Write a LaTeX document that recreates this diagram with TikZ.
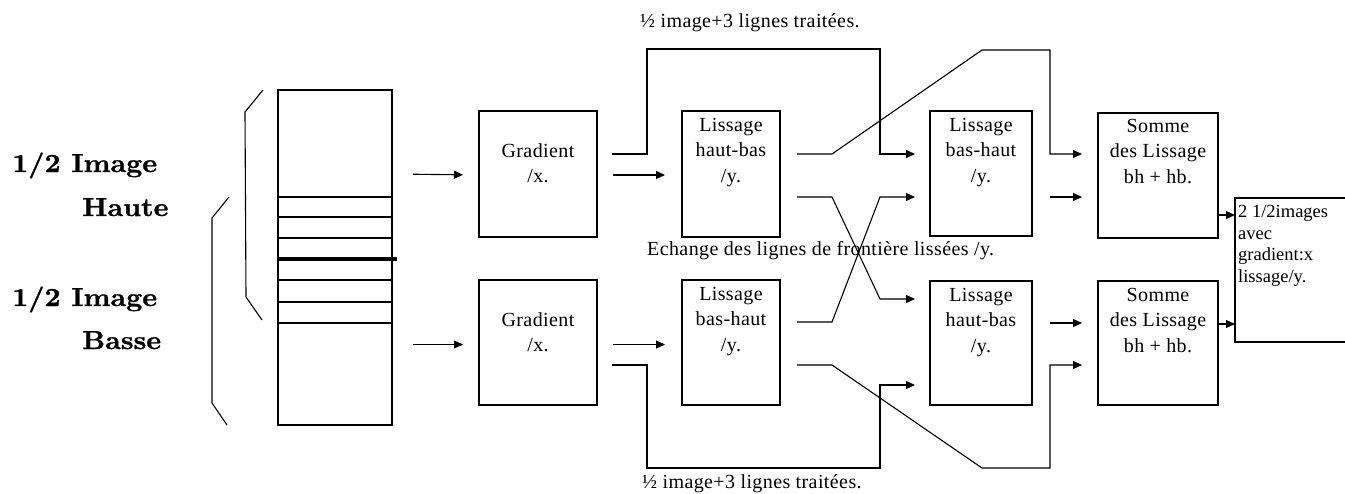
\documentclass[tikz,border=0pt]{standalone}
\usepackage{fontspec}
\newfontfamily\tnr{Liberation Serif}[LetterSpace=2]
\newfontfamily\tnrplain{Liberation Serif}
\newfontfamily\lmb{lmroman10-bold.otf}[FakeStretch=1.08,FakeBold=1]
\usetikzlibrary{arrows.meta,calc}
\tikzset{
  box/.style={draw,line width=1.2pt,inner sep=0pt,outer sep=0pt,anchor=north west},
  arr/.style={line width=1.1pt,-{Triangle[length=9pt,width=8pt]}},
  ln/.style={line width=1.1pt},
  btxt/.style={font=\tnr\fontsize{20}{25.5}\selectfont,align=center,anchor=north,inner sep=0pt},
  lbl/.style={font=\tnr\fontsize{20}{24}\selectfont,anchor=base west,inner sep=0pt},
  big/.style={font=\lmb\fontsize{26}{32}\selectfont,anchor=base west,inner sep=0pt},
}
\begin{document}
\begin{tikzpicture}[x=1pt,y=-1pt]
\clip (0,0) rectangle (1345,493);
\fill[white] (0,0) rectangle (1345,493);

% left labels
\node[big] (t1) at (12,172) {1/2 Image};
\node[big] (t2) at (82,216) {Haute};
\node[big] (t3) at (12,306) {1/2 Image};
\node[big] (t4) at (82,349) {Basse};

% braces
\draw[ln] (263,90) -- (245,112) -- (246,297) -- (262,320);
\draw[ln] (229,197) -- (212,218) -- (212,403) -- (227,425);

% image strip
\node[box,minimum width=114pt,minimum height=335pt] (img) at (278,90) {};
\foreach \yy in {197,217,238,280,302,323}{
  \draw[line width=1.1pt] (img.west |- 0,\yy) -- (img.east |- 0,\yy);
}
\draw[line width=3.5pt] ($(img.west |- 0,259)+(-1,0)$) -- ($(img.east |- 0,259)+(5,0)$);

% boxes
\node[box,minimum width=118pt,minimum height=126pt] (g1) at (479,111) {};
\node[box,minimum width=118pt,minimum height=125pt] (g2) at (479,280) {};
\node[box,minimum width=98pt,minimum height=126pt] (l1) at (682,111) {};
\node[box,minimum width=98pt,minimum height=125pt] (l2) at (682,280) {};
\node[box,minimum width=102pt,minimum height=125pt] (l3) at (930,111) {};
\node[box,minimum width=102pt,minimum height=124pt] (l4) at (930,281) {};
\node[box,minimum width=120pt,minimum height=125pt] (s1) at (1098,113) {};
\node[box,minimum width=120pt,minimum height=124pt] (s2) at (1098,281) {};
\node[box,minimum width=140pt,minimum height=144pt] (out) at (1235,198) {};

% box texts
\node[btxt] (g1t) at ($(g1.north)+(0,32)$) {Gradient\\/x.};
\node[btxt] (g2t) at ($(g2.north)+(0,32)$) {Gradient\\/x.};
\node[btxt] (l1t) at ($(l1.north)+(0,7)$) {Lissage\\haut-bas\\/y.};
\node[btxt] (l2t) at ($(l2.north)+(0,7)$) {Lissage\\bas-haut\\/y.};
\node[btxt] (l3t) at ($(l3.north)+(0,7)$) {Lissage\\bas-haut\\/y.};
\node[btxt] (l4t) at ($(l4.north)+(0,7)$) {Lissage\\haut-bas\\/y.};
\node[btxt] (s1t) at ($(s1.north)+(0,6)$) {Somme\\des Lissage\\bh + hb.};
\node[btxt] (s2t) at ($(s2.north)+(0,7)$) {Somme\\des Lissage\\bh + hb.};
\node[font=\tnrplain\fontsize{18.5}{21.7}\selectfont,align=left,anchor=north west,inner sep=0pt] (outt) at ($(out.north west)+(3,7)$) {2 1/2images\\avec\\gradient:x\\lissage/y.};

% labels
\node[lbl] (top) at (640,27) {½ image+3 lignes traitées.};
\node[lbl] (bot) at (642,488) {½ image+3 lignes traitées.};
\node[lbl] (ech) at (647,255) {Echange des lignes de frontière lissées /y.};

% routing points
\coordinate (p1) at (647,49);
\coordinate (p2) at (880,49);
\coordinate (p3) at (982,50);
\coordinate (p4) at (1050,50);
\coordinate (p5) at (880,299);
\coordinate (p6) at (880,197);
\coordinate (p7) at (647,468);
\coordinate (p8) at (880,468);
\coordinate (p9) at (982,468);
\coordinate (p10) at (1050,468);

% connectors
\draw[arr,shorten <=21pt,shorten >=16pt] (g1.west -| img.east) -- ($(g1.west)+(0,1)$);
\draw[arr,shorten <=21pt,shorten >=16pt] ($(g2.west -| img.east)+(0,2)$) -- ($(g2.west)+(0,2)$);
\draw[arr,shorten <=16pt,shorten >=17pt] ($(g1.east)+(0,1)$) -- ($(l1.west)+(0,1)$);
\draw[arr,shorten <=16pt,shorten >=17pt] ($(g2.east)+(0,2)$) -- ($(l2.west)+(0,2)$);

\draw[arr] ($(g1.north east)+(15,43)$) -- ($(g1.north east)+(50,43)$) -- (p1) -- (p2) -- ($(l3.north west)+(-50,43)$) -- ($(l3.north west)+(-15,43)$);
\draw[arr] ($(l1.north east)+(17,43)$) -- ($(l1.north east)+(52,43)$) -- (p3) -- (p4) -- ($(s1.north west)+(-48,41)$) -- ($(s1.north west)+(-16,41)$);
\draw[arr] ($(l1.north east)+(17,86)$) -- ($(l1.north east)+(52,86)$) -- (p5) -- ($(l4.north west)+(-15,18)$);
\draw[arr] ($(l2.north east)+(17,42)$) -- ($(l2.north east)+(52,42)$) -- (p6) -- ($(l3.north west)+(-15,86)$);
\draw[arr] ($(g2.north east)+(15,85)$) -- ($(g2.north east)+(50,85)$) -- (p7) -- (p8) -- ($(l4.north west)+(-50,104)$) -- ($(l4.north west)+(-15,104)$);
\draw[arr] ($(l2.north east)+(17,85)$) -- ($(l2.north east)+(52,85)$) -- (p9) -- (p10) -- ($(s2.north west)+(-48,84)$) -- ($(s2.north west)+(-16,84)$);
\draw[arr] ($(l3.north east)+(18,86)$) -- ($(s1.north west)+(-16,84)$);
\draw[arr] ($(l4.north east)+(18,42)$) -- ($(s2.north west)+(-16,42)$);
\draw[arr] ($(s1.north east)+(0,102)$) -- ($(out.north west)+(0,17)$);
\draw[arr] ($(s2.north east)+(0,43)$) -- ($(out.north west)+(0,126)$);
\end{tikzpicture}
\end{document}
